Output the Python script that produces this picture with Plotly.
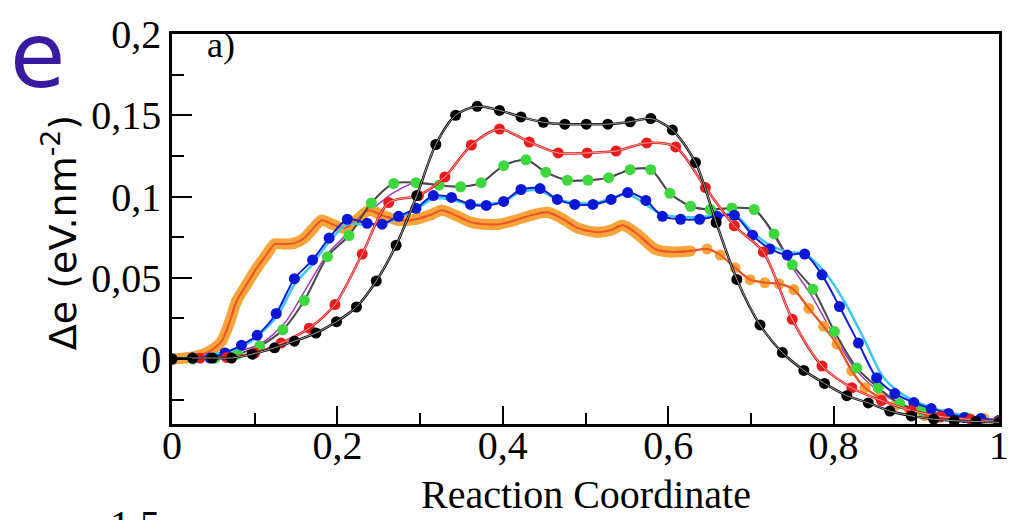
import plotly.graph_objects as go

# ---------------- data ----------------
black_x = [0, 0.025, 0.049, 0.072, 0.097, 0.124, 0.148, 0.174, 0.199, 0.223, 0.247, 0.271, 0.296, 0.319,
           0.343, 0.369, 0.396, 0.422, 0.449, 0.475, 0.501, 0.527, 0.554, 0.579, 0.605, 0.633, 0.658,
           0.683, 0.711, 0.738, 0.764, 0.789, 0.816, 0.842, 0.868, 0.894, 0.921, 0.946, 0.972, 1.0]
black_y = [0, 0.0006, 0.0006, 0.0006, 0.003, 0.0069, 0.011, 0.016, 0.023, 0.032, 0.048, 0.070, 0.1006,
           0.132, 0.150, 0.1555, 0.153, 0.149, 0.1457, 0.1445, 0.1445, 0.1445, 0.146, 0.148, 0.141,
           0.121, 0.084, 0.049, 0.021, 0.004, -0.007, -0.015, -0.0226, -0.027, -0.032, -0.035, -0.037,
           -0.038, -0.0384, -0.039]

red_x = [0, 0.034, 0.066, 0.1, 0.132, 0.166, 0.197, 0.23, 0.262, 0.298, 0.33, 0.362, 0.396, 0.432,
         0.467, 0.502, 0.537, 0.574, 0.609, 0.645, 0.68, 0.715, 0.75, 0.786, 0.822, 0.858, 0.894,
         0.93, 0.966, 1.0]
red_y = [0, 0.0006, 0.001, 0.0037, 0.0098, 0.019, 0.0335, 0.0646, 0.0963, 0.1006, 0.112, 0.1317,
         0.1415, 0.1335, 0.1268, 0.1268, 0.128, 0.133, 0.1305, 0.1055, 0.082, 0.0659, 0.0244,
         -0.0043, -0.0177, -0.0256, -0.0317, -0.0354, -0.0372, -0.0384]

green_x = [0, 0.025, 0.052, 0.079, 0.106, 0.134, 0.160, 0.188, 0.214, 0.241, 0.268, 0.295, 0.323,
           0.349, 0.374, 0.401, 0.428, 0.452, 0.478, 0.503, 0.528, 0.554, 0.579, 0.602, 0.627,
           0.651, 0.677, 0.704, 0.728, 0.750, 0.775, 0.801, 0.828, 0.854, 0.880, 0.906, 0.933,
           0.960, 1.0]
green_y = [0, 0, 0.0006, 0.003, 0.008, 0.018, 0.036, 0.063, 0.076, 0.096, 0.108, 0.1085, 0.107,
           0.106, 0.1085, 0.119, 0.1226, 0.115, 0.110, 0.110, 0.1116, 0.1165, 0.1165, 0.102, 0.094,
           0.092, 0.093, 0.092, 0.077, 0.058, 0.043, 0.017, -0.0055, -0.0177, -0.0274, -0.0317,
           -0.0341, -0.036, -0.0378]

blue_x = [0, 0.025, 0.046, 0.064, 0.084, 0.103, 0.126, 0.148, 0.170, 0.190, 0.212, 0.236, 0.254,
          0.274, 0.295, 0.316, 0.338, 0.361, 0.380, 0.401, 0.422, 0.445, 0.466, 0.487, 0.509,
          0.531, 0.551, 0.573, 0.593, 0.615, 0.638, 0.659, 0.680, 0.702, 0.723, 0.744, 0.765,
          0.786, 0.807, 0.830, 0.852, 0.874, 0.897, 0.918, 0.939, 0.958, 0.978, 1.0]
blue_y = [0, 0.0006, 0.0006, 0.0037, 0.0085, 0.0146, 0.028, 0.0494, 0.061, 0.0744, 0.086, 0.0835,
          0.083, 0.0878, 0.0927, 0.1006, 0.0994, 0.0951, 0.0945, 0.097, 0.1043, 0.1049, 0.0982,
          0.0951, 0.0951, 0.0982, 0.1024, 0.0976, 0.0878, 0.086, 0.086, 0.0878, 0.0884, 0.0762,
          0.0677, 0.064, 0.0646, 0.0518, 0.0323, 0.0098, -0.0116, -0.0213, -0.0268, -0.0305,
          -0.0335, -0.036, -0.0366, -0.0378]

cyan_x = [0, 0.084, 0.126, 0.148, 0.170, 0.190, 0.212, 0.236, 0.254, 0.295, 0.316, 0.338, 0.361,
          0.401, 0.422, 0.445, 0.466, 0.509, 0.551, 0.593, 0.638, 0.680, 0.702, 0.723, 0.744,
          0.765, 0.789, 0.813, 0.838, 0.859, 0.882, 0.918, 0.958, 1.0]
cyan_y = [0, 0.0073, 0.0256, 0.0457, 0.0585, 0.072, 0.083, 0.0823, 0.083, 0.092, 0.0988, 0.098,
          0.0951, 0.097, 0.103, 0.1037, 0.0982, 0.0957, 0.1012, 0.089, 0.0872, 0.089, 0.078,
          0.0701, 0.0659, 0.0646, 0.0537, 0.0354, 0.011, -0.0104, -0.0213, -0.0299, -0.0348,
          -0.0378]

orange_x = [0, 0.016, 0.030, 0.046, 0.060, 0.070, 0.078, 0.090, 0.102, 0.114, 0.124, 0.136, 0.148,
            0.160, 0.170, 0.181, 0.194, 0.208, 0.223, 0.238, 0.254, 0.274, 0.295, 0.314, 0.326,
            0.343, 0.362, 0.379, 0.395, 0.415, 0.434, 0.455, 0.473, 0.491, 0.515, 0.531, 0.545,
            0.563, 0.584, 0.603, 0.627, 0.647, 0.663, 0.681, 0.699, 0.717, 0.734, 0.752, 0.770,
            0.788, 0.804, 0.822, 0.838, 0.856, 0.874, 0.892, 0.910, 0.928, 0.946, 0.964, 0.982, 1.0]
orange_y = [0, 0.0006, 0.0018, 0.0049, 0.011, 0.0232, 0.0354, 0.0457, 0.0555, 0.064, 0.0707, 0.0707,
            0.0713, 0.0744, 0.0799, 0.0854, 0.0829, 0.0805, 0.0854, 0.0915, 0.0884, 0.0854, 0.086,
            0.089, 0.0915, 0.0884, 0.0841, 0.0829, 0.0829, 0.0854, 0.0884, 0.0902, 0.086, 0.0805,
            0.078, 0.0793, 0.0823, 0.0768, 0.0677, 0.0659, 0.0665, 0.0677, 0.064, 0.0561, 0.0488,
            0.047, 0.0463, 0.0427, 0.0311, 0.0201, 0.0091, -0.0073, -0.0177, -0.0238, -0.0287,
            -0.0317, -0.0348, -0.036, -0.0366, -0.0366, -0.0366, -0.0378]

# purple line: visible on the rise and the descent, hidden under the green curve on the plateau
purple_x = [0, 0.058, 0.106, 0.136, 0.160, 0.188, 0.214, 0.241, 0.268, 0.295, 0.323, 0.349, 0.374,
            0.401, 0.428, 0.452, 0.478, 0.503, 0.528, 0.554, 0.579, 0.602, 0.627, 0.651, 0.677,
            0.704, 0.729, 0.752, 0.774, 0.801, 0.828, 0.854, 0.882, 0.912, 0.948, 1.0]
purple_y = [0, 0.0024, 0.0091, 0.022, 0.0415, 0.0646, 0.078, 0.0915, 0.1024, 0.1085, 0.107, 0.106,
            0.1085, 0.119, 0.1226, 0.115, 0.110, 0.110, 0.1116, 0.1165, 0.1165, 0.102, 0.094,
            0.092, 0.093, 0.092, 0.075, 0.055, 0.0384, 0.014, -0.0073, -0.0195, -0.028, -0.033,
            -0.036, -0.0378]

x_tickvals = [0, 0.2, 0.4, 0.6, 0.8, 1.0]
x_ticktext = ["0", "0,2", "0,4", "0,6", "0,8", "1"]
y_tickvals = [0, 0.05, 0.1, 0.15, 0.2]
y_ticktext = ["0", "0,05", "0,1", "0,15", "0,2"]

# ---------------- figure ----------------
fig = go.Figure()


def add_series(x, y, line_color, line_width, marker_color=None, marker_size=10, inner=None):
    mode = "lines+markers" if marker_color else "lines"
    fig.add_trace(go.Scatter(
        x=x, y=y, mode=mode,
        line=dict(color=line_color, width=line_width, shape="spline", smoothing=0.8),
        marker=dict(color=marker_color, size=marker_size, line=dict(width=0)) if marker_color else None,
        showlegend=False, hoverinfo="skip"))
    if inner:
        fig.add_trace(go.Scatter(
            x=x, y=y, mode="lines",
            line=dict(color=inner, width=1, shape="spline", smoothing=0.8),
            showlegend=False, hoverinfo="skip"))


add_series(purple_x, purple_y, "#a23cc0", 1.5)
# dense orange band where the orange points crowd together
n_band = 41
fig.add_trace(go.Scatter(
    x=orange_x[:n_band], y=orange_y[:n_band], mode="lines",
    line=dict(color="#f7a43a", width=11, shape="spline", smoothing=0.8),
    showlegend=False, hoverinfo="skip"))
add_series(orange_x, orange_y, "#ee5a2a", 2, marker_color="#f7a43a", marker_size=11)
fig.add_trace(go.Scatter(
    x=orange_x, y=orange_y, mode="lines",
    line=dict(color="#ec5526", width=2, shape="spline", smoothing=0.8),
    showlegend=False, hoverinfo="skip"))
add_series(green_x, green_y, "#4a4a4a", 2, marker_color="#3dd83d", marker_size=11)
add_series(cyan_x, cyan_y, "#3cc8f2", 2.5)
add_series(blue_x, blue_y, "#1020d8", 2, marker_color="#0a18d6", marker_size=11)
add_series(red_x, red_y, "#e01818", 2.5, marker_color="#e81c1c", marker_size=11, inner="#f4a0a0")
add_series(black_x, black_y, "#111111", 2.5, marker_color="#000000", marker_size=11, inner="#9a9a9a")

serif = "Liberation Serif, Times New Roman, serif"
sans = "DejaVu Sans, Verdana, sans-serif"

fig.update_layout(
    width=1021, height=520,
    margin=dict(l=172, r=18, t=30, b=96),
    paper_bgcolor="white", plot_bgcolor="white",
    xaxis=dict(range=[0, 1], tickvals=x_tickvals, ticktext=x_ticktext,
               ticks="inside", ticklen=18, tickwidth=2, tickcolor="black",
               ticklabelstandoff=-16,
               minor=dict(dtick=0.1, ticks="inside", ticklen=11, tickwidth=2, tickcolor="black"),
               showline=True, linecolor="black", linewidth=2.5, mirror=True,
               showgrid=False, zeroline=False,
               tickfont=dict(family=serif, size=40, color="black")),
    yaxis=dict(range=[-0.04, 0.2], tickvals=y_tickvals, ticktext=y_ticktext,
               ticks="inside", ticklen=20, tickwidth=2, tickcolor="black",
               minor=dict(dtick=0.025, tick0=0, ticks="inside", ticklen=12, tickwidth=2, tickcolor="black"),
               showline=True, linecolor="black", linewidth=2.5, mirror=True,
               showgrid=False, zeroline=False,
               tickfont=dict(family=serif, size=40, color="black")),
    annotations=[
        dict(text="Reaction Coordinate", xref="paper", yref="paper", x=0.50, y=-0.118,
             xanchor="center", yanchor="top", showarrow=False,
             font=dict(family=serif, size=40, color="black")),
        dict(text="Δe (eV.nm<sup>-2</sup>)", xref="paper", yref="paper", x=-0.135, y=0.49,
             xanchor="center", yanchor="middle", textangle=-90, showarrow=False,
             font=dict(family=sans, size=38, color="black")),
        dict(text="a)", xref="paper", yref="paper", x=0.040, y=1.028,
             xanchor="left", yanchor="top", showarrow=False,
             font=dict(family=serif, size=36, color="black")),
        dict(text="e", xref="paper", yref="paper", x=-0.198, y=1.085,
             xanchor="left", yanchor="top", showarrow=False,
             font=dict(family=sans, size=90, color="#3a1aa0")),
        dict(text="1,5", xref="paper", yref="paper", x=-0.045, y=-0.195,
             xanchor="center", yanchor="top", showarrow=False,
             font=dict(family=serif, size=40, color="black")),
    ],
)

fig.write_html("out.html")
